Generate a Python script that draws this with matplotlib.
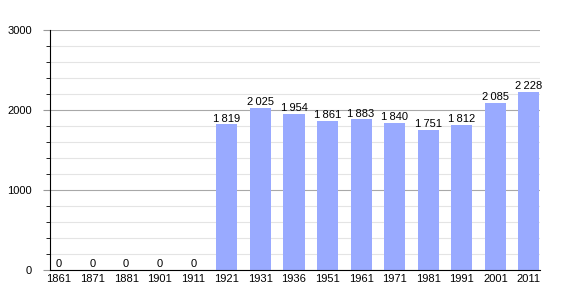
import matplotlib.pyplot as plt
from matplotlib.ticker import MultipleLocator

years = ['1861', '1871', '1881', '1901', '1911', '1921', '1931', '1936',
         '1951', '1961', '1971', '1981', '1991', '2001', '2011']
population = [0, 0, 0, 0, 0, 1819, 2025, 1954, 1861, 1883, 1840, 1751, 1812, 2085, 2228]

plt.rcParams['font.family'] = ['Liberation Sans', 'DejaVu Sans']

fig = plt.figure(figsize=(5.7, 3.0), dpi=100)
ax = fig.add_axes([50 / 570, 30 / 300, 490 / 570, 240 / 300])

x = list(range(len(years)))
ax.bar(x, population, width=0.63, color='#99aaff', zorder=3)

# value labels, thin space as thousands separator
for xi, v in zip(x, population):
    label = f'{v:,}'.replace(',', '\u2009')
    ax.text(xi, v + 10, label, ha='center', va='bottom', fontsize=8, zorder=4)

ax.set_xlim(-0.27, len(years) - 0.67)
ax.set_ylim(0, 3000)
ax.set_xticks(x)
ax.set_xticklabels(years, fontsize=8)
ax.yaxis.set_major_locator(MultipleLocator(1000))
ax.yaxis.set_minor_locator(MultipleLocator(200))
ax.tick_params(axis='y', labelsize=8, which='major', length=5, color='#999999', pad=8)
ax.tick_params(axis='y', which='minor', length=3, color='black')
ax.tick_params(axis='x', length=0, pad=3)

ax.grid(axis='y', which='minor', color='#e4e4e4', linewidth=0.8, zorder=0)
ax.grid(axis='y', which='major', color='#a8a8a8', linewidth=0.8, zorder=1)

for side in ['top', 'right']:
    ax.spines[side].set_visible(False)
ax.spines['left'].set_zorder(5)
ax.spines['bottom'].set_zorder(5)

fig.savefig('out.png', dpi=100)
